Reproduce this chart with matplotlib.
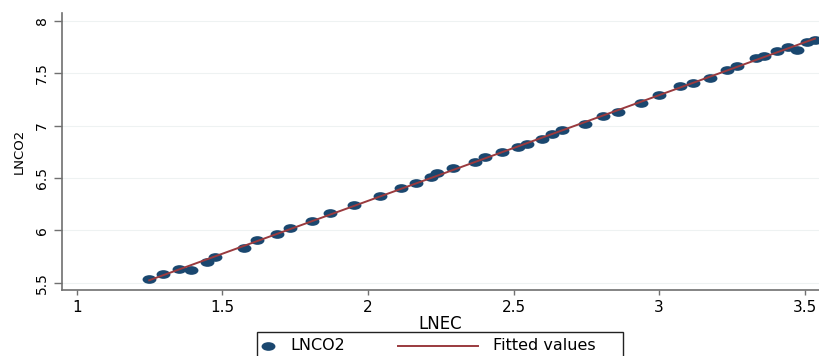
import matplotlib

matplotlib.use("Agg")
import matplotlib.pyplot as plt
import numpy as np
from matplotlib.lines import Line2D
from matplotlib.patches import Rectangle
from matplotlib.path import Path
from matplotlib.transforms import Affine2D

# values
lnec = [
    1.249, 1.297, 1.352, 1.393, 1.446, 1.475, 1.575, 1.620, 1.687, 1.733,
    1.807, 1.870, 1.952, 2.042, 2.113, 2.165, 2.216, 2.236, 2.293, 2.368,
    2.402, 2.460, 2.517, 2.545, 2.597, 2.631, 2.666, 2.747, 2.808, 2.860,
    2.938, 3.000, 3.072, 3.115, 3.175, 3.232, 3.267, 3.333, 3.361, 3.404,
    3.442, 3.473, 3.507, 3.535,
]
lnco2 = [
    5.538, 5.583, 5.631, 5.621, 5.695, 5.742, 5.834, 5.905, 5.962, 6.019,
    6.086, 6.165, 6.239, 6.327, 6.401, 6.454, 6.511, 6.544, 6.592, 6.655,
    6.699, 6.750, 6.798, 6.821, 6.874, 6.916, 6.954, 7.017, 7.091, 7.132,
    7.218, 7.288, 7.377, 7.406, 7.458, 7.530, 7.568, 7.641, 7.666, 7.711,
    7.749, 7.720, 7.800, 7.813,
]
x_ticks = [1, 1.5, 2, 2.5, 3, 3.5]
x_tick_labels = ["1", "1.5", "2", "2.5", "3", "3.5"]
y_ticks = [5.5, 6, 6.5, 7, 7.5, 8]
y_tick_labels = ["5.5", "6", "6.5", "7", "7.5", "8"]

NAVY = "#1a476f"
MAROON = "#9a3a3e"
AXIS_GREY = "#707070"

W, H = 819, 356

plt.rcParams["font.family"] = ["DejaVu Sans"]

# stata-like markers look stretched sideways in the picture
ellipse = Path.unit_circle().transformed(Affine2D().scale(1.6, 1.0))

x = np.array(lnec)
y = np.array(lnco2)
slope, intercept = np.polyfit(x, y, 1)
x_fit = np.array([x.min(), x.max()])
y_fit = intercept + slope * x_fit

fig = plt.figure(figsize=(W / 100, H / 100), dpi=100)
fig.patch.set_facecolor("white")
ax = fig.add_axes([62.3 / W, 1 - 290 / H, 1 - 62.3 / W, (290 - 13.3) / H])

ax.plot(x, y, linestyle="none", marker=ellipse, markersize=10,
        color=NAVY, markeredgewidth=0, zorder=3)
ax.plot(x_fit, y_fit, color=MAROON, linewidth=1.4, zorder=4)

ax.set_xlim(0.9506, 3.549)
ax.set_ylim(5.430, 8.071)
ax.set_xticks(x_ticks, x_tick_labels)
ax.set_yticks(y_ticks, y_tick_labels)

for side in ("top", "right"):
    ax.spines[side].set_visible(False)
for side in ("left", "bottom"):
    ax.spines[side].set_color(AXIS_GREY)
    ax.spines[side].set_linewidth(1.2)

ax.grid(axis="y", color="#eef2f2", linewidth=0.8, zorder=0)
ax.tick_params(axis="x", length=3.5, width=1, color=AXIS_GREY, pad=4,
               labelsize=11)
ax.tick_params(axis="y", length=5.5, width=1, color=AXIS_GREY, pad=4,
               labelsize=10, labelrotation=90)
for lab in ax.get_yticklabels():
    lab.set_va("center")

ax.set_xlabel("LNEC", fontsize=12, labelpad=0)
ax.set_ylabel("LNCO2", fontsize=9.5, labelpad=7)


def fx(px):
    return px / W


def fy(py):
    return 1 - py / H


# legend box, partly cut off by the bottom edge as in the reference
fig.add_artist(Rectangle((fx(257), fy(374)), fx(623) - fx(257), fy(332) - fy(374),
                         transform=fig.transFigure, facecolor="white",
                         edgecolor="#222222", linewidth=1.0))
fig.add_artist(Line2D([fx(268)], [fy(346)], transform=fig.transFigure,
                      linestyle="none", marker=ellipse, markersize=10,
                      color=NAVY, markeredgewidth=0))
fig.text(fx(290), fy(346), "LNCO2", fontsize=11.5, va="center", ha="left")
fig.add_artist(Line2D([fx(398), fx(478)], [fy(346), fy(346)],
                      transform=fig.transFigure, color=MAROON, linewidth=1.4))
fig.text(fx(493), fy(346), "Fitted values", fontsize=11.5, va="center", ha="left")

fig.savefig("out.png", dpi=100, facecolor="white")
